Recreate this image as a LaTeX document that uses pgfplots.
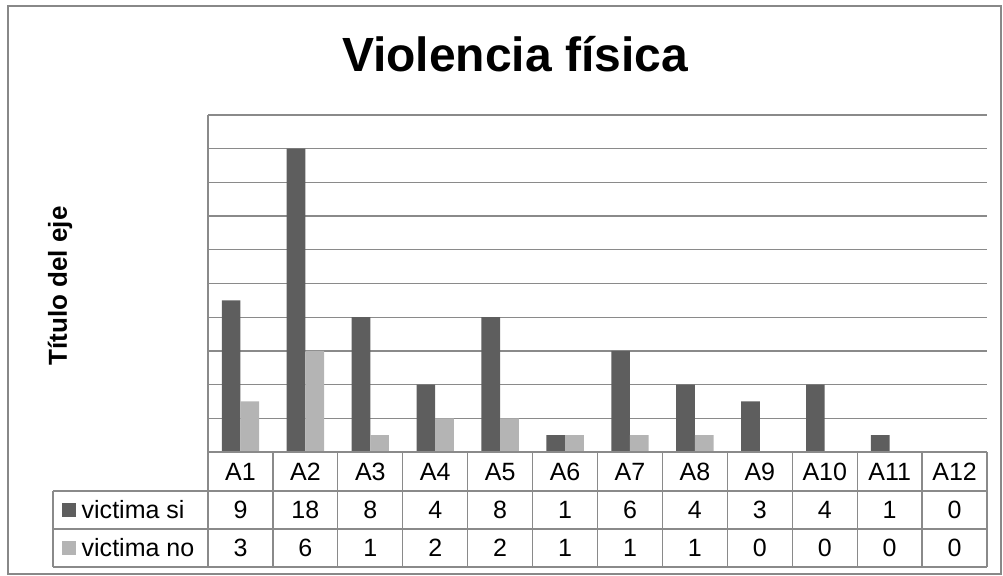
\documentclass[border=0pt]{standalone}
\usepackage{pgfplots}
\usepackage{pgfplotstable}
\pgfplotsset{compat=1.18}
\usepackage{fontspec}
\setmainfont{Liberation Sans}
\definecolor{darkbar}{HTML}{5E5E5E}
\definecolor{lightbar}{HTML}{B4B4B4}
\definecolor{gridc}{HTML}{8A8A8A}
\definecolor{borderc}{HTML}{888888}
\newcommand\tabf{\fontsize{25bp}{29bp}\selectfont}

\pgfplotstableread{
x name si no
0 A1 9 3
1 A2 18 6
2 A3 8 1
3 A4 4 2
4 A5 8 2
5 A6 1 1
6 A7 6 1
7 A8 4 1
8 A9 3 0
9 A10 4 0
10 A11 1 0
11 A12 0 0
}\datatable

\begin{document}
\begin{tikzpicture}[x=1bp,y=1bp]
\useasboundingbox (0,0) rectangle (1003,576);
\draw[borderc, line width=1.5bp] (8,2) rectangle (1001,570);
\node[font=\bfseries\fontsize{48bp}{52bp}\selectfont, anchor=base] at (515,504) {Violencia física};
\node[rotate=90, font=\bfseries\fontsize{26bp}{30bp}\selectfont] at (60,290) {Título del eje};

\begin{axis}[
  at={(208bp,124bp)}, anchor=south west,
  scale only axis, width=779bp, height=337bp,
  xmin=-0.5, xmax=11.5, ymin=0, ymax=20,
  ytick={0,2,...,20}, yticklabels={}, xtick=\empty,
  major tick length=0pt,
  ymajorgrids, grid style={gridc, line width=1.3bp},
  axis line style={draw=none},
  ybar=0pt, bar width=18.7bp,
  clip=false,
]
\addplot[fill=darkbar, draw=none] table[x=x, y=si] {\datatable};
\addplot[fill=lightbar, draw=none] table[x=x, y=no] {\datatable};
\end{axis}

% data table
\begin{scope}[gridc, line width=1.3bp]
\draw (208,124) -- (987,124);
\draw (53,85) -- (987,85);
\draw (53,47) -- (987,47);
\draw (53,9) -- (987,9);
\draw (53,9) -- (53,85);
\draw (208,9) -- (208,461);
\foreach \k in {1,...,12}{
  \pgfmathsetmacro\vx{208+64.92*\k}
  \draw (\vx,9) -- (\vx,124);
}
\end{scope}
\fill[darkbar] (62,59) rectangle (76,73);
\fill[lightbar] (62,21) rectangle (76,35);
\node[font=\tabf, anchor=base west, inner sep=0pt] at (81.5,57.3) {victima si};
\node[font=\tabf, anchor=base west, inner sep=0pt] at (81.5,19) {victima no};
\foreach \k in {0,...,11}{
  \pgfmathsetmacro\cx{208+64.92*(\k+0.5)}
  \pgfplotstablegetelem{\k}{name}\of\datatable
  \node[font=\tabf, anchor=base, inner sep=0pt] at (\cx,95.5) {\pgfplotsretval};
  \pgfplotstablegetelem{\k}{si}\of\datatable
  \node[font=\tabf, anchor=base, inner sep=0pt] at (\cx,57.3) {\pgfplotsretval};
  \pgfplotstablegetelem{\k}{no}\of\datatable
  \node[font=\tabf, anchor=base, inner sep=0pt] at (\cx,19) {\pgfplotsretval};
}
\end{tikzpicture}
\end{document}
